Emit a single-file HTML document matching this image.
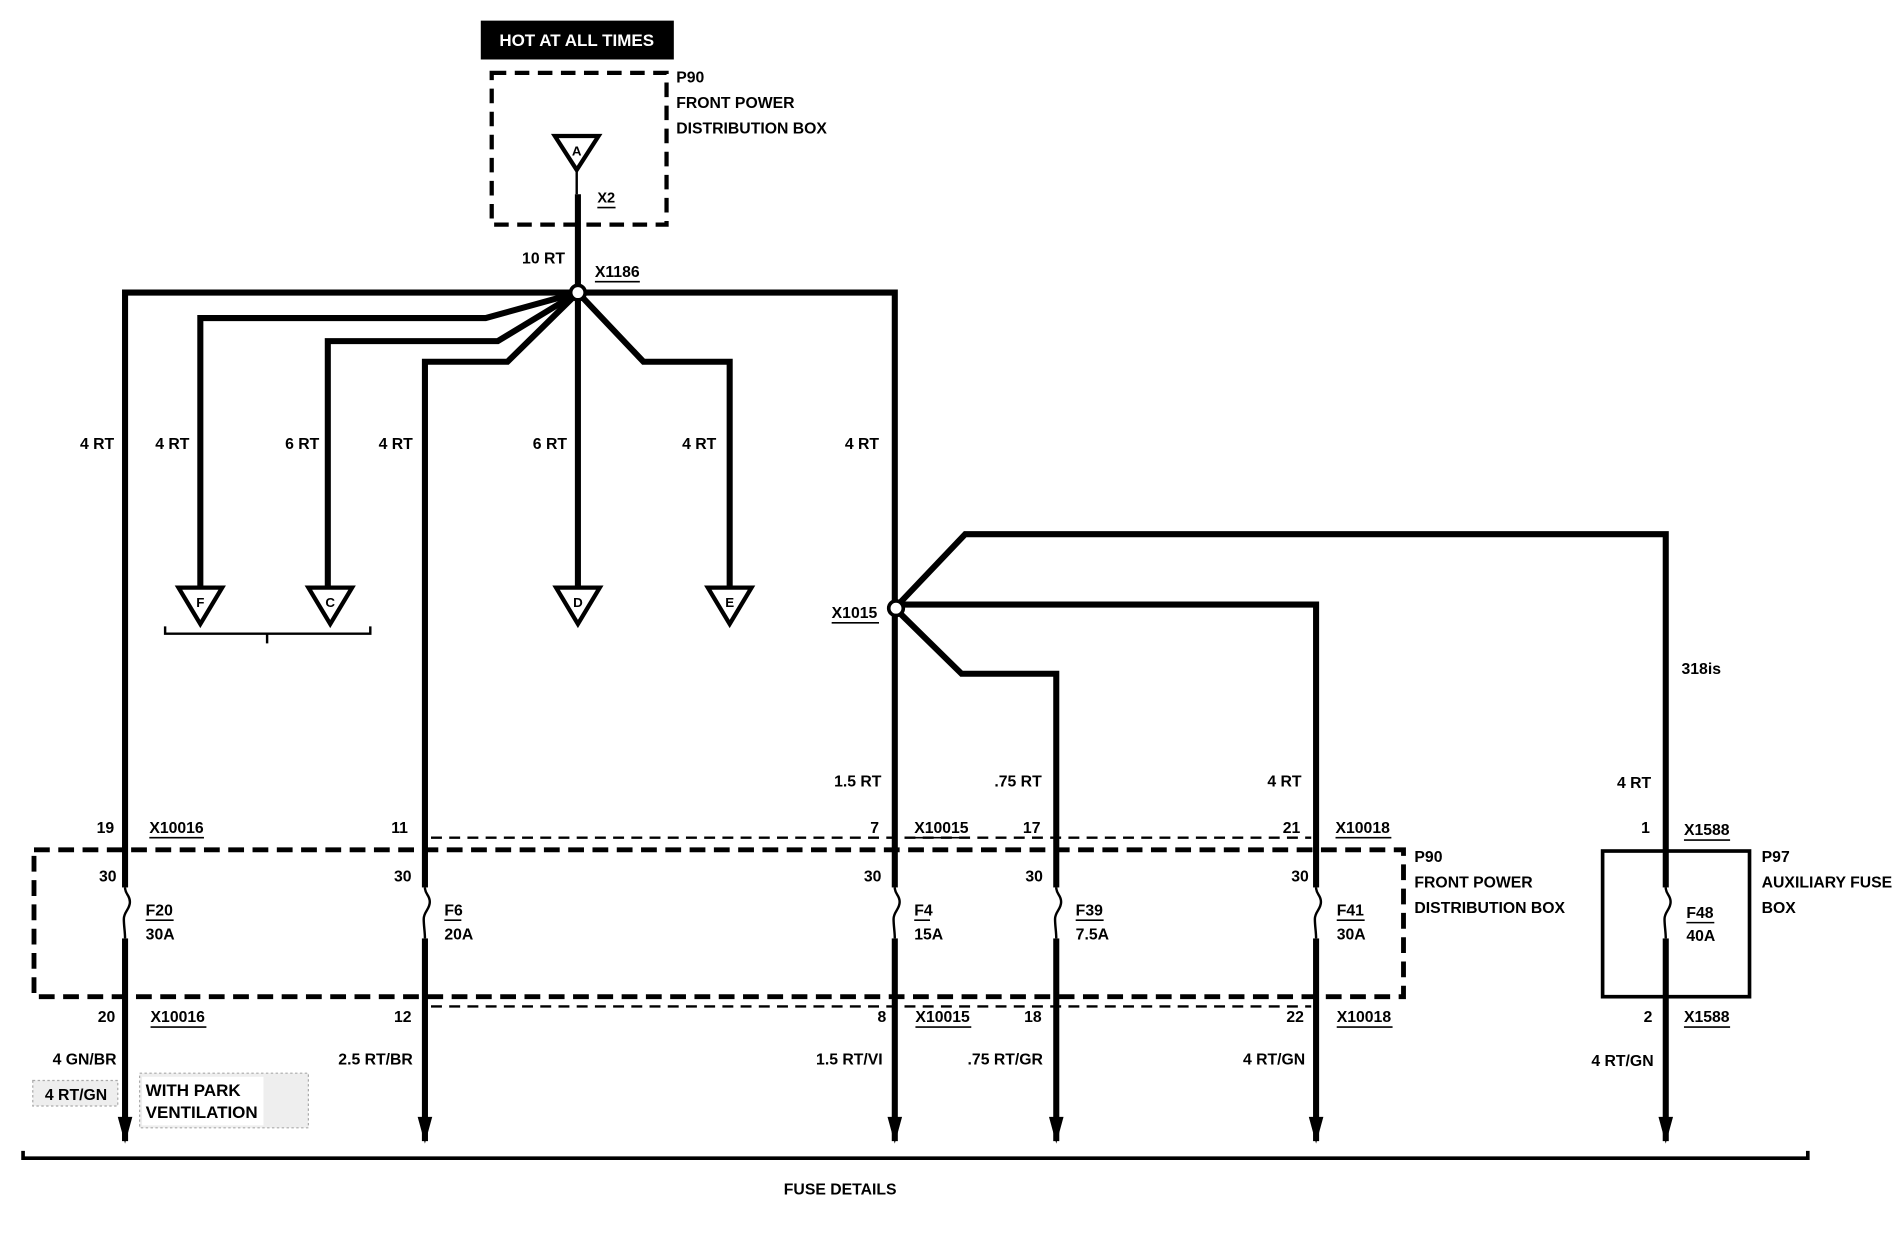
<!DOCTYPE html>
<html><head><meta charset="utf-8"><style>
html,body{margin:0;padding:0;background:#fff;width:1894px;height:1248px;overflow:hidden}
svg{display:block}
text{font-family:"Liberation Sans Narrow","Liberation Sans",sans-serif;font-size:13px;fill:#000;font-weight:bold}
.t{stroke:#000;stroke-width:5;fill:none;stroke-linejoin:miter}
.n{stroke:#000;stroke-width:2;fill:none}
.u{stroke:#000;stroke-width:1.3}
</style></head><body>
<svg width="1894" height="1248" viewBox="0 0 1560 1028" preserveAspectRatio="none" xmlns="http://www.w3.org/2000/svg">
<!-- header -->
<rect x="396" y="17" width="159" height="32" fill="#000"/>
<text x="475" y="38" text-anchor="middle" style="fill:#fff;font-size:14px">HOT AT ALL TIMES</text>
<rect x="405" y="60" width="144" height="125" fill="none" stroke="#000" stroke-width="3.5" stroke-dasharray="12,7"/>
<text x="557" y="68">P90</text>
<text x="557" y="89">FRONT POWER</text>
<text x="557" y="110">DISTRIBUTION BOX</text>
<polygon points="457,112 493,112 475,140" fill="#fff" stroke="#000" stroke-width="3.5"/>
<text x="475" y="128" text-anchor="middle" style="font-size:11px">A</text>
<line x1="475" y1="140" x2="475" y2="160" class="n"/>
<line x1="476" y1="160" x2="476" y2="241" class="t"/>
<text x="492" y="167" style="font-size:12px">X2</text><line x1="492" y1="171" x2="507" y2="171" class="u"/>
<text x="430" y="217">10 RT</text>
<text x="490" y="228">X1186</text><line x1="490" y1="232" x2="527" y2="232" class="u"/>
<!-- top wires -->
<path d="M103,940 V241 H737 V940" class="t"/>
<path d="M476,241 L400,262 H165 V485" class="t"/>
<path d="M476,241 L410,281 H270 V485" class="t"/>
<path d="M476,241 L418,298 H350 V940" class="t"/>
<path d="M476,241 V485" class="t"/>
<path d="M476,241 L530,298 H601 V485" class="t"/>
<circle cx="476" cy="241" r="6" fill="#fff" stroke="#000" stroke-width="3"/>
<!-- triangles -->
<g fill="#fff" stroke="#000" stroke-width="3.5">
<polygon points="147,484 183,484 165,514"/>
<polygon points="254,484 290,484 272,514"/>
<polygon points="458,484 494,484 476,514"/>
<polygon points="583,484 619,484 601,514"/>
</g>
<text x="165" y="500" text-anchor="middle" style="font-size:11px">F</text>
<text x="272" y="500" text-anchor="middle" style="font-size:11px">C</text>
<text x="476" y="500" text-anchor="middle" style="font-size:11px">D</text>
<text x="601" y="500" text-anchor="middle" style="font-size:11px">E</text>
<path d="M136,516 V522 H305 V516 M220,522 V530" class="n"/>
<!-- 4 RT labels -->
<g text-anchor="end">
<text x="94" y="370">4 RT</text><text x="156" y="370">4 RT</text><text x="263" y="370">6 RT</text>
<text x="340" y="370">4 RT</text><text x="467" y="370">6 RT</text><text x="590" y="370">4 RT</text>
<text x="724" y="370">4 RT</text>
</g>
<!-- X1015 branches -->
<path d="M737,501 L795,440 H1372 V940" class="t"/>
<path d="M737,501 L745,498 H1084 V940" class="t"/>
<path d="M737,501 L792,555 H870 V940" class="t"/>
<circle cx="738" cy="501" r="6" fill="#fff" stroke="#000" stroke-width="3"/>
<text x="685" y="509">X1015</text><line x1="685" y1="513" x2="724" y2="513" class="u"/>
<text x="1385" y="555">318is</text>
<g text-anchor="end">
<text x="726" y="648">1.5 RT</text><text x="858" y="648">.75 RT</text><text x="1072" y="648">4 RT</text><text x="1360" y="649">4 RT</text>
<text x="94" y="686">19</text><text x="336" y="686">11</text><text x="724" y="686">7</text><text x="857" y="686">17</text><text x="1071" y="686">21</text><text x="1359" y="686">1</text>
<text x="96" y="726">30</text><text x="339" y="726">30</text><text x="726" y="726">30</text><text x="859" y="726">30</text><text x="1078" y="726">30</text>
<text x="95" y="842">20</text><text x="339" y="842">12</text><text x="730" y="842">8</text><text x="858" y="842">18</text><text x="1074" y="842">22</text><text x="1361" y="842">2</text>
<text x="96" y="877">4 GN/BR</text><text x="340" y="877">2.5 RT/BR</text><text x="727" y="877">1.5 RT/VI</text><text x="859" y="877">.75 RT/GR</text><text x="1075" y="877">4 RT/GN</text><text x="1362" y="878">4 RT/GN</text>
</g>
<g>
<text x="123" y="686">X10016</text><line x1="123" y1="690" x2="168" y2="690" class="u"/>
<text x="753" y="686">X10015</text><line x1="753" y1="690" x2="798" y2="690" class="u"/>
<text x="1100" y="686">X10018</text><line x1="1100" y1="690" x2="1146" y2="690" class="u"/>
<text x="1387" y="688">X1588</text><line x1="1387" y1="692" x2="1425" y2="692" class="u"/>
<text x="124" y="842">X10016</text><line x1="124" y1="846" x2="170" y2="846" class="u"/>
<text x="754" y="842">X10015</text><line x1="754" y1="846" x2="800" y2="846" class="u"/>
<text x="1101" y="842">X10018</text><line x1="1101" y1="846" x2="1147" y2="846" class="u"/>
<text x="1387" y="842">X1588</text><line x1="1387" y1="846" x2="1425" y2="846" class="u"/>
</g>
<!-- thin dashed connector lines -->
<line x1="355" y1="690" x2="1080" y2="690" stroke="#000" stroke-width="2" stroke-dasharray="9,6"/>
<line x1="355" y1="829" x2="1080" y2="829" stroke="#000" stroke-width="2" stroke-dasharray="9,6"/>
<!-- big dashed box -->
<rect x="28" y="700" width="1128" height="121" fill="none" stroke="#000" stroke-width="4" stroke-dasharray="13,7"/>
<text x="1165" y="710">P90</text><text x="1165" y="731">FRONT POWER</text><text x="1165" y="752">DISTRIBUTION BOX</text>
<rect x="1320" y="701" width="121" height="120" fill="none" stroke="#000" stroke-width="3"/>
<text x="1451" y="710">P97</text><text x="1451" y="731">AUXILIARY FUSE</text><text x="1451" y="752">BOX</text>
<!-- fuses: white gaps + squiggle -->
<g>
<rect x="98" y="731" width="12" height="42" fill="#fff"/><rect x="345" y="731" width="12" height="42" fill="#fff"/>
<rect x="732" y="731" width="12" height="42" fill="#fff"/><rect x="865" y="731" width="12" height="42" fill="#fff"/>
<rect x="1079" y="731" width="12" height="42" fill="#fff"/><rect x="1367" y="731" width="12" height="42" fill="#fff"/>
</g>
<g class="n">
<path d="M103,731 c0,6 4,6 4,12 c0,6 -5,8 -5,14 c0,6 1,10 1,16"/>
<path d="M350,731 c0,6 4,6 4,12 c0,6 -5,8 -5,14 c0,6 1,10 1,16"/>
<path d="M737,731 c0,6 4,6 4,12 c0,6 -5,8 -5,14 c0,6 1,10 1,16"/>
<path d="M870,731 c0,6 4,6 4,12 c0,6 -5,8 -5,14 c0,6 1,10 1,16"/>
<path d="M1084,731 c0,6 4,6 4,12 c0,6 -5,8 -5,14 c0,6 1,10 1,16"/>
<path d="M1372,731 c0,6 4,6 4,12 c0,6 -5,8 -5,14 c0,6 1,10 1,16"/>
</g>
<g>
<text x="120" y="754">F20</text><line x1="120" y1="758" x2="143" y2="758" class="u"/><text x="120" y="774">30A</text>
<text x="366" y="754">F6</text><line x1="366" y1="758" x2="380" y2="758" class="u"/><text x="366" y="774">20A</text>
<text x="753" y="754">F4</text><line x1="753" y1="758" x2="766" y2="758" class="u"/><text x="753" y="774">15A</text>
<text x="886" y="754">F39</text><line x1="886" y1="758" x2="909" y2="758" class="u"/><text x="886" y="774">7.5A</text>
<text x="1101" y="754">F41</text><line x1="1101" y1="758" x2="1124" y2="758" class="u"/><text x="1101" y="774">30A</text>
<text x="1389" y="756">F48</text><line x1="1389" y1="760" x2="1412" y2="760" class="u"/><text x="1389" y="775">40A</text>
</g>
<!-- arrowheads -->
<g fill="#000">
<polygon points="97,920 109,920 103,942"/><polygon points="344,920 356,920 350,942"/>
<polygon points="731,920 743,920 737,942"/><polygon points="864,920 876,920 870,942"/>
<polygon points="1078,920 1090,920 1084,942"/><polygon points="1366,920 1378,920 1372,942"/>
</g>
<!-- park ventilation note -->
<rect x="27" y="890" width="70" height="21" fill="#eee" stroke="#aaa" stroke-dasharray="2,2"/>
<text x="37" y="906">4 RT/GN</text>
<rect x="115" y="884" width="139" height="45" fill="#eee" stroke="#aaa" stroke-dasharray="2,2"/>
<rect x="117" y="887" width="100" height="40" fill="#fff"/>
<text x="120" y="903" style="font-size:14px">WITH PARK</text>
<text x="120" y="921" style="font-size:14px">VENTILATION</text>
<!-- bottom bracket -->
<path d="M19,948 V954 H1489 V948" stroke="#000" stroke-width="3" fill="none"/>
<text x="692" y="984" text-anchor="middle">FUSE DETAILS</text>
</svg>
</body></html>
